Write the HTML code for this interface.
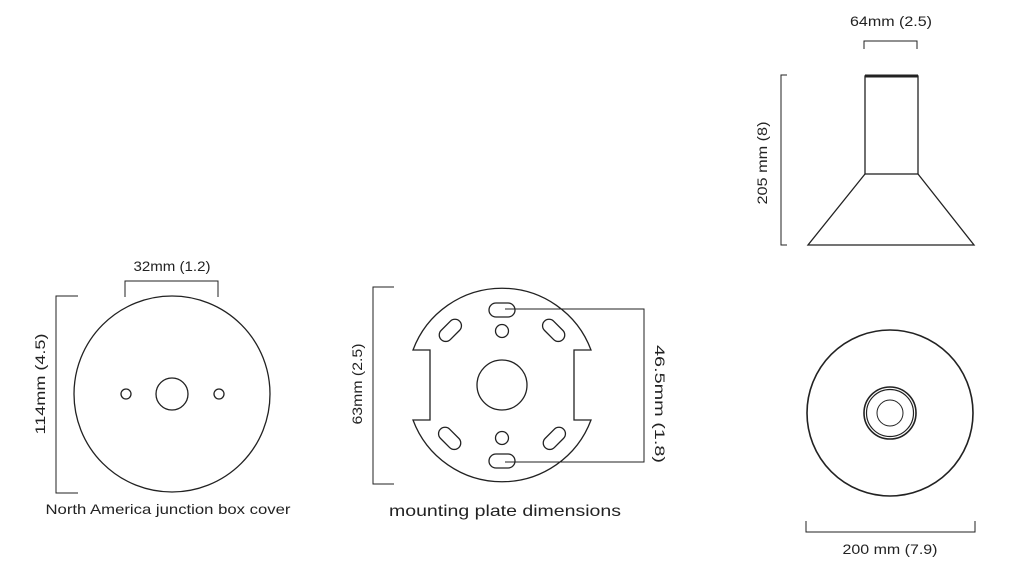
<!DOCTYPE html>
<html><head><style>body{margin:0;background:#fff}svg{display:block}text{font-family:"Liberation Sans",sans-serif;fill:#222}</style></head>
<body>
<svg width="1032" height="562" viewBox="0 0 1032 562" fill="none" stroke="#222" stroke-width="1.3">
<!-- left -->
<circle cx="172" cy="394" r="98"/>
<circle cx="172" cy="394" r="16"/>
<circle cx="126" cy="394" r="5"/>
<circle cx="219" cy="394" r="5"/>
<path d="M125 297V281H218V297" stroke-width="1"/>
<path d="M78 296H56V493H78" stroke-width="1"/>
<text x="172" y="271" font-size="14" text-anchor="middle" stroke="none" textLength="77" lengthAdjust="spacingAndGlyphs">32mm (1.2)</text>
<text transform="translate(45 384) rotate(-90)" font-size="14" text-anchor="middle" stroke="none" textLength="101" lengthAdjust="spacingAndGlyphs">114mm (4.5)</text>
<text x="168" y="514" font-size="14" text-anchor="middle" stroke="none" textLength="245" lengthAdjust="spacingAndGlyphs">North America junction box cover</text>
<!-- plate -->
<path d="M413 350 A95 95 0 0 1 591 350 H574 V420 H591 A95 95 0 0 1 413 420 H430 V350 Z"/>
<circle cx="502" cy="385" r="25"/>
<circle cx="502" cy="331" r="6.5"/>
<circle cx="502" cy="438" r="6.5"/>
<rect x="489" y="303" width="26" height="14" rx="7"/>
<rect x="489" y="454" width="26" height="14" rx="7"/>
<rect x="437" y="324" width="26" height="13" rx="6.5" transform="rotate(-45 450 330)"/>
<rect x="541" y="324" width="26" height="13" rx="6.5" transform="rotate(45 554 330)"/>
<rect x="437" y="432" width="26" height="13" rx="6.5" transform="rotate(45 450 438)"/>
<rect x="541" y="432" width="26" height="13" rx="6.5" transform="rotate(-45 554 438)"/>
<path d="M505 309H644V462H505" stroke-width="1"/>
<path d="M394 287H373V484H394" stroke-width="1"/>
<text transform="translate(655 404) rotate(90)" font-size="14" text-anchor="middle" stroke="none" textLength="118" lengthAdjust="spacingAndGlyphs">46.5mm (1.8)</text>
<text transform="translate(362 384) rotate(-90)" font-size="14" text-anchor="middle" stroke="none" textLength="81" lengthAdjust="spacingAndGlyphs">63mm (2.5)</text>
<text x="505" y="516" font-size="16" text-anchor="middle" stroke="none" textLength="232" lengthAdjust="spacingAndGlyphs">mounting plate dimensions</text>
<!-- right top -->
<rect x="865" y="76" width="53" height="98"/>
<path d="M865 76H918" stroke-width="3"/>
<path d="M865 174L808 245H974L918 174"/>
<path d="M787 75H781V245H787" stroke-width="1"/>
<path d="M864 49V41H917V49" stroke-width="1"/>
<text x="891" y="26" font-size="14" text-anchor="middle" stroke="none" textLength="82" lengthAdjust="spacingAndGlyphs">64mm (2.5)</text>
<text transform="translate(767 163) rotate(-90)" font-size="14" text-anchor="middle" stroke="none" textLength="83" lengthAdjust="spacingAndGlyphs">205 mm (8)</text>
<!-- right bottom -->
<circle cx="890" cy="413" r="83" stroke-width="1.6"/>
<circle cx="890" cy="413" r="26" stroke-width="1.6"/>
<circle cx="890" cy="413" r="23.5" stroke-width="1.2"/>
<circle cx="890" cy="413" r="13" stroke-width="1"/>
<path d="M806 521V532H975V521" stroke-width="1"/>
<text x="890" y="554" font-size="14" text-anchor="middle" stroke="none" textLength="95" lengthAdjust="spacingAndGlyphs">200 mm (7.9)</text>
</svg>
</body></html>
